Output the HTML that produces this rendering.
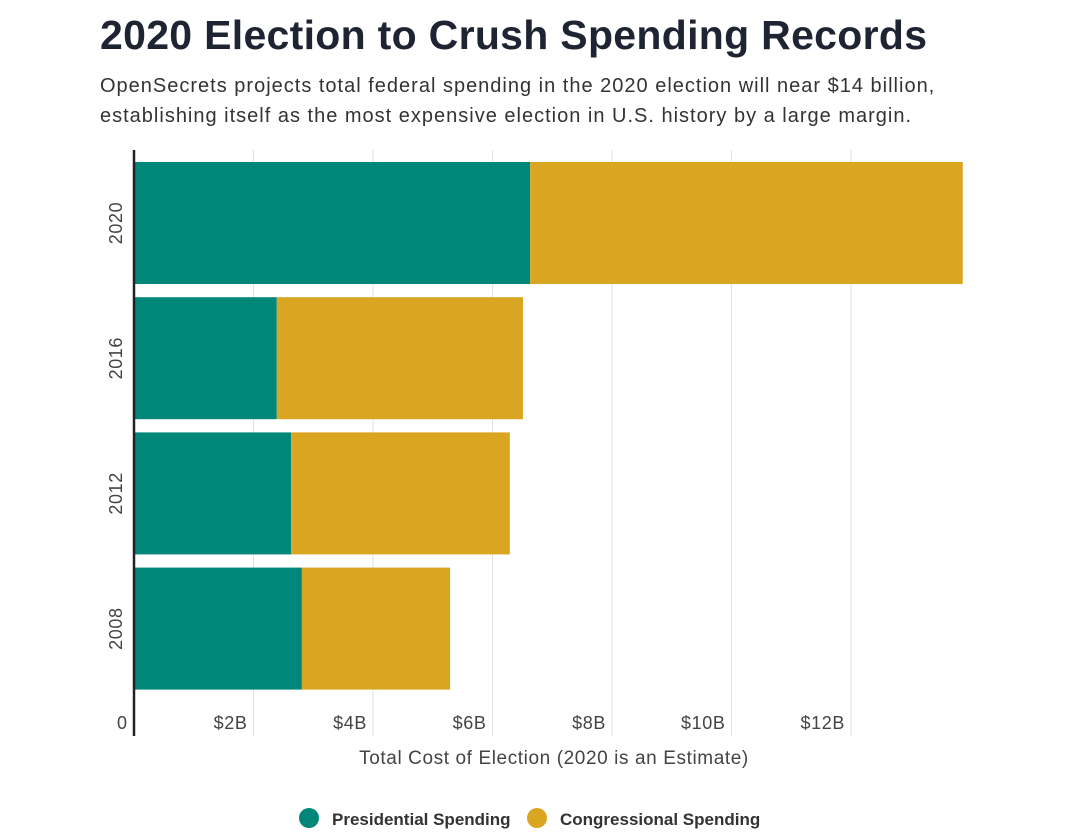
<!DOCTYPE html>
<html><head><meta charset="utf-8"><style>
body{margin:0;background:#fff;width:1080px;height:835px;overflow:hidden;font-family:"Liberation Sans",sans-serif;color:#333}
#title{position:absolute;left:100px;top:12px;font-size:41px;font-weight:bold;color:#1f2433;margin:0;letter-spacing:0.3px}
#sub{position:absolute;left:100px;top:71px;font-size:20px;line-height:30px;color:#333;width:980px;letter-spacing:1px;white-space:nowrap}
</style></head><body>
<h1 id="title">2020 Election to Crush Spending Records</h1>
<div id="sub">OpenSecrets projects total federal spending in the 2020 election will near $14 billion,<br>establishing itself as the most expensive election in U.S. history by a large margin.</div>
<svg id="chart" width="1080" height="835" style="position:absolute;left:0;top:0"></svg>
<script>
const categories=["2020","2016","2012","2008"];
const presidential=[6.63,2.39,2.63,2.81];
const congressional=[7.24,4.12,3.66,2.48];
const ticks=[2,4,6,8,10,12];
const tickLabels=["$2B","$4B","$6B","$8B","$10B","$12B"];
const NS="http://www.w3.org/2000/svg";
const svg=document.getElementById('chart');
const x0=134,pxPer=59.75;
const xs=v=>x0+v*pxPer;
const bandTop=162,bandStep=135.2,barH=122;
function mk(t,a){const e=document.createElementNS(NS,t);for(const k in a)e.setAttribute(k,a[k]);svg.appendChild(e);return e;}
ticks.forEach((t,i)=>{
 const g=mk('line',{x1:xs(t),x2:xs(t),y1:150,y2:736,stroke:'#dde3e6','stroke-width':1});
 
 
 const l=mk('text',{x:xs(t)-6,y:729,'text-anchor':'end','font-size':18,'letter-spacing':0.6,fill:'#444','font-family':'Liberation Sans, sans-serif'});
 l.textContent=tickLabels[i];
 
 
});
const z=mk('text',{x:127,y:729,'text-anchor':'end','font-size':18,fill:'#444','font-family':'Liberation Sans, sans-serif'});z.textContent='0';


categories.forEach((c,i)=>{
 const y=bandTop+i*bandStep;
 const p=mk('rect',{x:xs(0),y:y,width:xs(presidential[i])-xs(0),height:barH,fill:'#00877a'});
 
 
 const q=mk('rect',{x:xs(presidential[i]),y:y,width:xs(presidential[i]+congressional[i])-xs(presidential[i]),height:barH,fill:'#daa520'});
 
 
 const t=mk('text',{x:0,y:0,transform:`translate(122,${y+barH/2}) rotate(-90)`,'text-anchor':'middle','font-size':18,'letter-spacing':0.6,fill:'#444','font-family':'Liberation Sans, sans-serif'});
 t.textContent=c;
 
 
});
const ax=mk('line',{x1:134,x2:134,y1:150,y2:736,stroke:'#222','stroke-width':2.5});


const xt=mk('text',{x:554,y:764,'text-anchor':'middle','font-size':19,'letter-spacing':0.6,fill:'#444','font-family':'Liberation Sans, sans-serif'});
xt.textContent='Total Cost of Election (2020 is an Estimate)';


[[309,'#00877a','Presidential Spending'],[537,'#daa520','Congressional Spending']].forEach(([cx,col,lab])=>{
 const c=mk('circle',{cx:cx,cy:818,r:10,fill:col});
 
 
 const t=mk('text',{x:cx+23,y:825,'font-size':17,'font-weight':'bold',fill:'#333','font-family':'Liberation Sans, sans-serif'});
 t.textContent=lab;
 
 
});
</script>
</body></html>
